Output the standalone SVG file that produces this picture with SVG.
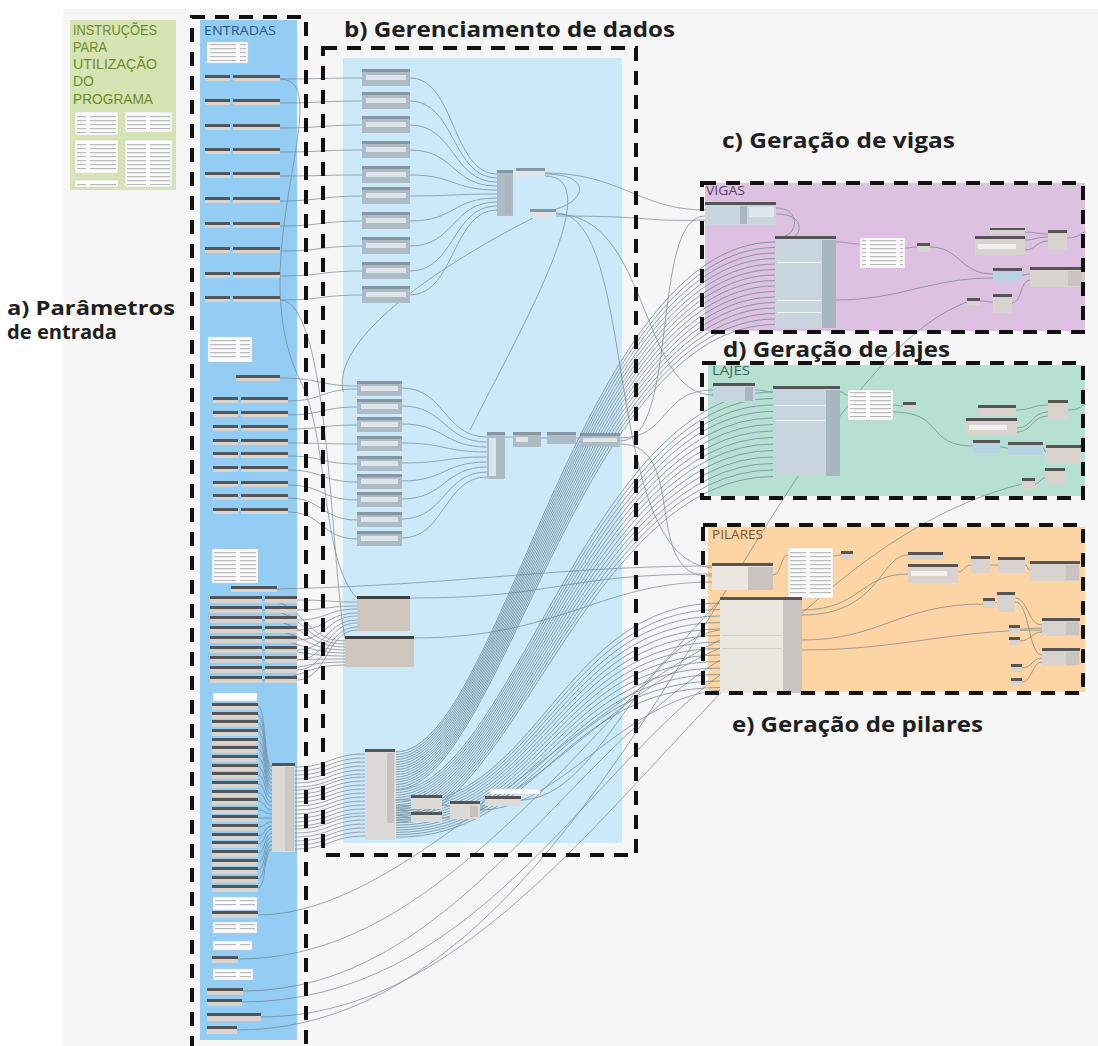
<svg xmlns="http://www.w3.org/2000/svg" width="1098" height="1046" viewBox="0 0 1098 1046">
<style>
.lbl{font-family:"Open Sans","Liberation Sans",sans-serif;font-weight:700;fill:#1e1e1e;font-size:21px}
.lbs{font-size:19px}
.gt{font-family:"Open Sans","Liberation Sans",sans-serif;font-size:12px}
.it{font-family:"Liberation Sans",Arial,sans-serif;font-size:14px;fill:#6f8a2a}
.dash{fill:none;stroke:#111;stroke-width:4;stroke-dasharray:14 10}
.w{fill:none;stroke:#73838e;stroke-width:0.8;opacity:0.85}
.f{fill:none;stroke:#688392;stroke-width:0.9;opacity:0.8}
.h{fill:#555}
.b{fill:#d8d3ce}
.cbh{fill:#8797a1}
.cbb{fill:#adbbc4}
.cbi{fill:#dde5ea}
.nt{fill:#fbfbfb;stroke:#d0d0d0;stroke-width:0.5}
.nb{fill:#c8d5de}
.pc{fill:#a8b6bf}
.pb{fill:#ebe6e0}
.pp{fill:#c9c4bf}
.tan{fill:#cfc6bd}
</style>
<defs>
<pattern id="tx" width="30" height="4" patternUnits="userSpaceOnUse"><rect width="26" height="1.2" fill="#b9b9b9"/></pattern>
<g id="pA"><rect width="25" height="3" class="h"/><rect y="3" width="25" height="3" class="b"/><rect x="28" width="47" height="3" class="h"/><rect x="28" y="3" width="47" height="3" class="b"/></g>
<g id="pC"><rect width="52" height="3" class="h"/><rect y="3" width="52" height="4" class="b"/><rect x="55" width="32" height="3" class="h"/><rect x="55" y="3" width="32" height="4" class="b"/></g>
<g id="li"><rect width="46" height="3" class="h"/><rect y="3" width="46" height="4" class="b"/></g>
<g id="cb"><rect width="48" height="3" class="cbh"/><rect y="3" width="48" height="14" class="cbb"/><rect x="4" y="6" width="40" height="5" class="cbi"/></g>
<g id="cb2"><rect width="45" height="3" class="cbh"/><rect y="3" width="45" height="12" class="cbb"/><rect x="4" y="5" width="37" height="5" class="cbi"/></g>
</defs>

<rect width="1098" height="1046" fill="#ffffff"/>
<rect x="63" y="9" width="1035" height="1037" fill="#f6f6f6"/>

<g id="instrucoes">
<rect x="70" y="20" width="106" height="170" fill="#d6e4b4"/>
<text class="it" x="73" y="35" textLength="84" lengthAdjust="spacingAndGlyphs">INSTRUÇÕES</text>
<text class="it" x="73" y="52" textLength="34" lengthAdjust="spacingAndGlyphs">PARA</text>
<text class="it" x="73" y="69" textLength="84" lengthAdjust="spacingAndGlyphs">UTILIZAÇÃO</text>
<text class="it" x="73" y="86" textLength="21" lengthAdjust="spacingAndGlyphs">DO</text>
<text class="it" x="73" y="104" textLength="80" lengthAdjust="spacingAndGlyphs">PROGRAMA</text>
<rect x="75" y="112" width="43" height="23" class="nt"/><rect x="77" y="114" width="39" height="19" fill="url(#tx)"/>
<rect x="125" y="112" width="47" height="20" class="nt"/><rect x="127" y="114" width="43" height="16" fill="url(#tx)"/>
<rect x="75" y="140" width="43" height="33" class="nt"/><rect x="77" y="142" width="39" height="29" fill="url(#tx)"/>
<rect x="125" y="140" width="47" height="47" class="nt"/><rect x="127" y="142" width="43" height="43" fill="url(#tx)"/>
<rect x="75" y="180" width="43" height="7" class="nt"/><rect x="77" y="182" width="39" height="4" fill="url(#tx)"/>
</g>

<g id="entradas-panel">
<rect x="200" y="20" width="97" height="1020" fill="#93cdf3"/>
<text x="204" y="35" class="gt" style="font-size:13px" fill="#27577d" textLength="72" lengthAdjust="spacingAndGlyphs">ENTRADAS</text>
</g>
<rect id="gerenciamento-panel" x="343" y="58" width="279" height="785" fill="#cce9fa"/>
<g id="vigas-panel"><rect x="705" y="183" width="380" height="148" fill="#dcc1e1"/>
<text x="706" y="195" class="gt" fill="#5c3d66" textLength="39" lengthAdjust="spacingAndGlyphs">VIGAS</text></g>
<g id="lajes-panel"><rect x="708" y="365" width="377" height="131" fill="#b6e1d2"/>
<text x="712" y="375" class="gt" fill="#3a6a5a" textLength="38" lengthAdjust="spacingAndGlyphs">LAJES</text></g>
<g id="pilares-panel"><rect x="708" y="527" width="377" height="165" fill="#fdd4a4"/>
<text x="712" y="539" class="gt" fill="#7a5530" textLength="51" lengthAdjust="spacingAndGlyphs">PILARES</text></g>

<g id="connectors">
<g class="w">
<path d="M280,79 C320,79 322,78 362,78"/><path d="M280,103 C320,103 322,101 362,101"/><path d="M280,128 C320,128 322,125 362,125"/><path d="M280,152 C320,152 322,150 362,150"/><path d="M280,176 C320,176 322,175 362,175"/><path d="M280,201 C320,201 322,196 362,196"/><path d="M280,226 C320,226 322,221 362,221"/><path d="M280,251 C320,251 322,246 362,246"/><path d="M280,276 C320,276 322,271 362,271"/><path d="M280,300 C320,300 322,295 362,295"/>
<path d="M410,78 C455,78 452,174 497,174"/><path d="M410,101 C455,101 452,178 497,178"/><path d="M410,125 C455,125 452,182 497,182"/><path d="M410,150 C455,150 452,186 497,186"/><path d="M410,175 C455,175 452,190 497,190"/><path d="M410,196 C455,196 452,194 497,194"/><path d="M410,221 C455,221 452,198 497,198"/><path d="M410,246 C455,246 452,202 497,202"/><path d="M410,271 C455,271 452,206 497,206"/><path d="M410,295 C455,295 452,210 497,210"/>
<path d="M288,401 C322,401 322,389 357,389"/><path d="M288,415 C322,415 322,407 357,407"/><path d="M288,429 C322,429 322,425 357,425"/><path d="M288,443 C322,443 322,444 357,444"/><path d="M288,456 C322,456 322,464 357,464"/><path d="M288,470 C322,470 322,482 357,482"/><path d="M288,485 C322,485 322,500 357,500"/><path d="M288,498 C322,498 322,520 357,520"/><path d="M288,512 C322,512 322,539 357,539"/>
<path d="M402,388 C445,388 444,437 487,437"/><path d="M402,406 C445,406 444,442 487,442"/><path d="M402,424 C445,424 444,447 487,447"/><path d="M402,443 C445,443 444,452 487,452"/><path d="M402,463 C445,463 444,457 487,457"/><path d="M402,481 C445,481 444,462 487,462"/><path d="M402,499 C445,499 444,467 487,467"/><path d="M402,519 C445,519 444,472 487,472"/><path d="M402,538 C445,538 444,477 487,477"/>
<path d="M505,437 L513,437"/><path d="M541,438 L547,438"/><path d="M576,438 L580,438"/>
<path d="M297,600 C327,600 327,602 357,602"/><path d="M297,610 C327,610 327,606 357,606"/><path d="M297,620 C327,620 327,609 357,609"/><path d="M297,630 C327,630 327,613 357,613"/><path d="M297,640 C327,640 327,616 357,616"/><path d="M297,650 C327,650 327,620 357,620"/><path d="M297,660 C327,660 327,623 357,623"/><path d="M297,670 C327,670 327,627 357,627"/><path d="M297,680 C327,680 327,630 357,630"/>
<path d="M262,600 C305,600 303,641 345,641"/><path d="M262,610 C305,610 303,644 345,644"/><path d="M262,620 C305,620 303,647 345,647"/><path d="M262,630 C305,630 303,650 345,650"/><path d="M262,640 C305,640 303,653 345,653"/><path d="M262,650 C305,650 303,656 345,656"/><path d="M262,660 C305,660 303,659 345,659"/><path d="M262,670 C305,670 303,662 345,662"/><path d="M262,680 C305,680 303,665 345,665"/>
<path d="M545,173 C620,173 640,210 705,210"/>
<path d="M545,174 C600,174 585,212 530,213"/>
<path d="M556,213 C640,213 600,560 712,568"/>
<path d="M556,214 C650,214 640,395 713,395"/>
<path d="M556,216 C660,216 640,222 705,220"/>
<path d="M545,176 C610,176 520,330 470,430"/>
<path d="M533,218 C470,250 330,330 343,392"/>
<path d="M620,438 C670,438 660,390 713,390"/>
<path d="M620,441 C680,441 650,216 705,216"/>
<path d="M620,444 C690,444 640,580 712,576"/>
<path d="M277,589 C460,585 560,566 712,566"/>
<path d="M410,598 C560,598 560,574 712,574"/>
<path d="M414,638 C560,638 600,582 712,582"/>
<path d="M280,79 C340,79 240,260 300,380 C330,440 320,560 357,598"/>
<path d="M280,300 C330,300 330,560 345,638"/>
<path d="M280,378 C320,378 320,386 357,386"/>
<path d="M258,915 C400,915 560,720 720,640"/>
<path d="M238,959 C400,959 520,820 720,600"/>
<path d="M243,991 C450,991 560,760 720,660"/>
<path d="M241,1002 C470,1002 580,780 720,675"/>
<path d="M260,1017 C560,1017 720,560 1022,484"/>
<path d="M237,1030 C600,1030 760,380 967,302"/>
<path d="M520,800 C600,800 640,640 720,630"/>
<path d="M480,810 C560,810 620,700 720,690"/>
<path d="M442,818 C520,818 600,700 720,648"/>
<path d="M442,805 C446,805 446,806 450,806"/>
<path d="M395,800 L411,800"/>
<path d="M480,806 C483,806 482,800 485,800"/>
</g>
<g class="w">
<path d="M258,706 C266,706 264,767 272,767"/><path d="M258,715 C266,715 264,771 272,771"/><path d="M258,723 C266,723 264,775 272,775"/><path d="M258,732 C266,732 264,779 272,779"/><path d="M258,741 C266,741 264,783 272,783"/><path d="M258,749 C266,749 264,787 272,787"/><path d="M258,758 C266,758 264,790 272,790"/><path d="M258,767 C266,767 264,794 272,794"/><path d="M258,775 C266,775 264,798 272,798"/><path d="M258,784 C266,784 264,802 272,802"/><path d="M258,793 C266,793 264,806 272,806"/><path d="M258,801 C266,801 264,810 272,810"/><path d="M258,810 C266,810 264,814 272,814"/><path d="M258,818 C266,818 264,818 272,818"/><path d="M258,827 C266,827 264,822 272,822"/><path d="M258,836 C266,836 264,826 272,826"/><path d="M258,844 C266,844 264,829 272,829"/><path d="M258,853 C266,853 264,833 272,833"/><path d="M258,862 C266,862 264,837 272,837"/><path d="M258,870 C266,870 264,841 272,841"/><path d="M258,879 C266,879 264,845 272,845"/><path d="M258,888 C266,888 264,849 272,849"/>
<path d="M295,767 C330,767 330,754 365,754"/><path d="M295,771 C330,771 330,758 365,758"/><path d="M295,775 C330,775 330,762 365,762"/><path d="M295,779 C330,779 330,766 365,766"/><path d="M295,783 C330,783 330,770 365,770"/><path d="M295,787 C330,787 330,774 365,774"/><path d="M295,790 C330,790 330,777 365,777"/><path d="M295,794 C330,794 330,781 365,781"/><path d="M295,798 C330,798 330,785 365,785"/><path d="M295,802 C330,802 330,789 365,789"/><path d="M295,806 C330,806 330,793 365,793"/><path d="M295,810 C330,810 330,797 365,797"/><path d="M295,814 C330,814 330,801 365,801"/><path d="M295,818 C330,818 330,805 365,805"/><path d="M295,822 C330,822 330,809 365,809"/><path d="M295,826 C330,826 330,813 365,813"/><path d="M295,829 C330,829 330,816 365,816"/><path d="M295,833 C330,833 330,820 365,820"/><path d="M295,837 C330,837 330,824 365,824"/><path d="M295,841 C330,841 330,828 365,828"/><path d="M295,845 C330,845 330,832 365,832"/><path d="M295,849 C330,849 330,836 365,836"/>
</g>
<g class="f">
<path d="M396,752 C500,752 580,242 775,242"/><path d="M396,754.5 C500,754.5 580,247.5 775,247.5"/><path d="M396,757 C500,757 580,253 775,253"/><path d="M396,759.5 C500,759.5 580,258.5 775,258.5"/><path d="M396,762 C500,762 580,264 775,264"/><path d="M396,764.5 C500,764.5 580,269.5 775,269.5"/><path d="M396,767 C500,767 580,275 775,275"/><path d="M396,769.5 C500,769.5 580,280.5 775,280.5"/><path d="M396,772 C500,772 580,286 775,286"/><path d="M396,774.5 C500,774.5 580,291.5 775,291.5"/><path d="M396,777 C500,777 580,297 775,297"/><path d="M396,779.5 C500,779.5 580,302.5 775,302.5"/><path d="M396,782 C500,782 580,308 775,308"/><path d="M396,784.5 C500,784.5 580,313.5 775,313.5"/><path d="M396,787 C500,787 580,319 775,319"/><path d="M396,789.5 C500,789.5 580,324.5 775,324.5"/>
<path d="M396,790 C510,790 590,392 773,392"/><path d="M396,792.5 C510,792.5 590,398.5 773,398.5"/><path d="M396,795 C510,795 590,405 773,405"/><path d="M396,797.5 C510,797.5 590,411.5 773,411.5"/><path d="M396,800 C510,800 590,418 773,418"/><path d="M396,802.5 C510,802.5 590,424.5 773,424.5"/><path d="M396,805 C510,805 590,431 773,431"/><path d="M396,807.5 C510,807.5 590,437.5 773,437.5"/><path d="M396,810 C510,810 590,444 773,444"/><path d="M396,812.5 C510,812.5 590,450.5 773,450.5"/><path d="M396,815 C510,815 590,457 773,457"/><path d="M396,817.5 C510,817.5 590,463.5 773,463.5"/><path d="M396,820 C510,820 590,470 773,470"/><path d="M396,822.5 C510,822.5 590,476.5 773,476.5"/>
<path d="M396,806 C540,806 560,603 720,603"/><path d="M396,808.4 C540,808.4 560,609.5 720,609.5"/><path d="M396,810.8 C540,810.8 560,616 720,616"/><path d="M396,813.2 C540,813.2 560,622.5 720,622.5"/><path d="M396,815.6 C540,815.6 560,629 720,629"/><path d="M396,818 C540,818 560,635.5 720,635.5"/><path d="M396,820.4 C540,820.4 560,642 720,642"/><path d="M396,822.8 C540,822.8 560,648.5 720,648.5"/><path d="M396,825.2 C540,825.2 560,655 720,655"/><path d="M396,827.6 C540,827.6 560,661.5 720,661.5"/><path d="M396,830 C540,830 560,668 720,668"/><path d="M396,832.4 C540,832.4 560,674.5 720,674.5"/><path d="M396,834.8 C540,834.8 560,681 720,681"/><path d="M396,837.2 C540,837.2 560,687.5 720,687.5"/>
</g>
<g class="w">
<path d="M776,208 C800,208 798,232 785,236"/><path d="M776,214 C806,214 800,234 795,236"/>
<path d="M836,242 C850,242 848,244 860,244"/><path d="M905,248 C910,248 912,247 917,247"/>
<path d="M930,247 C960,247 960,274 993,274"/><path d="M836,300 C900,300 930,278 993,278"/>
<path d="M1025,232 C1036,232 1036,234 1048,234"/><path d="M1025,240 C1036,240 1036,237 1048,237"/><path d="M1025,250 C1036,250 1036,241 1048,241"/>
<path d="M1022,275 C1026,275 1026,274 1030,274"/><path d="M980,301 C986,301 988,302 993,302"/>
<path d="M1012,303 C1022,303 1020,280 1030,280"/><path d="M1067,238 C1080,238 1080,232 1086,232"/>
<path d="M755,390 C765,390 765,392 773,392"/><path d="M840,392 C845,392 843,395 848,395"/>
<path d="M893,405 C898,405 898,406 903,406"/><path d="M893,412 C945,412 925,446 973,446"/>
<path d="M1000,447 C1004,447 1004,448 1008,448"/><path d="M1043,448 C1045,448 1044,452 1046,452"/>
<path d="M1016,410 C1032,410 1032,405 1048,405"/><path d="M1017,428 C1032,428 1032,412 1048,412"/><path d="M1017,432 C1032,432 1032,416 1048,416"/>
<path d="M1035,484 C1040,484 1040,478 1045,478"/><path d="M1068,410 C1080,410 1080,406 1086,404"/>
<path d="M773,575 C782,575 780,555 788,555"/><path d="M833,556 C837,556 837,555 841,555"/>
<path d="M802,610 C860,610 860,574 908,574"/><path d="M802,615 C880,615 880,555 908,555"/>
<path d="M802,640 C880,640 900,604 983,604"/><path d="M802,650 C900,650 950,630 1042,630"/>
<path d="M958,572 C964,572 964,565 971,565"/><path d="M990,565 C994,565 994,565 998,565"/><path d="M1025,565 C1028,565 1027,570 1030,570"/>
<path d="M995,603 C996,603 996,602 997,602"/>
<path d="M1015,598 C1028,598 1028,625 1042,625"/><path d="M1015,602 C1030,602 1028,655 1042,655"/>
<path d="M1020,629 C1030,629 1032,628 1042,628"/><path d="M1020,641 C1030,641 1032,632 1042,632"/>
<path d="M1022,668 C1032,668 1032,658 1042,658"/><path d="M1022,682 C1032,682 1032,662 1042,662"/>
</g>
</g>

<g id="entradas-nodes">
<rect x="207" y="42" width="41" height="21" class="nt"/><rect x="209" y="44" width="37" height="17" fill="url(#tx)"/>
<use href="#pA" x="205" y="75"/><use href="#pA" x="205" y="99"/><use href="#pA" x="205" y="124"/><use href="#pA" x="205" y="148"/><use href="#pA" x="205" y="172"/><use href="#pA" x="205" y="197"/><use href="#pA" x="205" y="222"/><use href="#pA" x="205" y="247"/><use href="#pA" x="205" y="272"/><use href="#pA" x="205" y="296"/>
<rect x="208" y="337" width="44" height="25" class="nt"/><rect x="210" y="339" width="40" height="21" fill="url(#tx)"/>
<rect x="236" y="375" width="44" height="3" class="h"/><rect x="236" y="378" width="44" height="3" class="b"/>
<use href="#pA" x="213" y="397"/><use href="#pA" x="213" y="411"/><use href="#pA" x="213" y="425"/><use href="#pA" x="213" y="439"/><use href="#pA" x="213" y="452"/><use href="#pA" x="213" y="466"/><use href="#pA" x="213" y="481"/><use href="#pA" x="213" y="494"/><use href="#pA" x="213" y="508"/>
<rect x="212" y="549" width="46" height="34" class="nt"/><rect x="214" y="551" width="42" height="30" fill="url(#tx)"/>
<rect x="231" y="586" width="46" height="3" class="h"/><rect x="231" y="589" width="46" height="3" class="b"/>
<use href="#pC" x="210" y="596"/><use href="#pC" x="210" y="606"/><use href="#pC" x="210" y="616"/><use href="#pC" x="210" y="626"/><use href="#pC" x="210" y="636"/><use href="#pC" x="210" y="646"/><use href="#pC" x="210" y="656"/><use href="#pC" x="210" y="666"/><use href="#pC" x="210" y="676"/>
<rect x="213" y="693" width="44" height="8" class="nt"/>
<use href="#li" x="212" y="703"/><use href="#li" x="212" y="712"/><use href="#li" x="212" y="720"/><use href="#li" x="212" y="729"/><use href="#li" x="212" y="738"/><use href="#li" x="212" y="746"/><use href="#li" x="212" y="755"/><use href="#li" x="212" y="764"/><use href="#li" x="212" y="772"/><use href="#li" x="212" y="781"/><use href="#li" x="212" y="790"/><use href="#li" x="212" y="798"/><use href="#li" x="212" y="807"/><use href="#li" x="212" y="815"/><use href="#li" x="212" y="824"/><use href="#li" x="212" y="833"/><use href="#li" x="212" y="841"/><use href="#li" x="212" y="850"/><use href="#li" x="212" y="859"/><use href="#li" x="212" y="867"/><use href="#li" x="212" y="876"/><use href="#li" x="212" y="885"/>
<rect x="213" y="897" width="44" height="13" class="nt"/><rect x="215" y="899" width="40" height="9" fill="url(#tx)"/>
<use href="#li" x="212" y="911"/>
<rect x="213" y="922" width="44" height="11" class="nt"/><rect x="215" y="924" width="40" height="7" fill="url(#tx)"/>
<rect x="213" y="941" width="39" height="9" class="nt"/><rect x="215" y="943" width="35" height="5" fill="url(#tx)"/>
<rect x="212" y="956" width="26" height="3" class="h"/><rect x="212" y="959" width="26" height="4" class="b"/>
<rect x="213" y="969" width="40" height="11" class="nt"/><rect x="215" y="971" width="36" height="7" fill="url(#tx)"/>
<rect x="207" y="988" width="36" height="3" class="h"/><rect x="207" y="991" width="36" height="4" class="b"/>
<rect x="207" y="999" width="35" height="3" class="h"/><rect x="207" y="1002" width="35" height="4" class="b"/>
<rect x="207" y="1013" width="54" height="3" class="h"/><rect x="207" y="1016" width="54" height="5" class="b"/>
<rect x="207" y="1026" width="30" height="3" class="h"/><rect x="207" y="1029" width="30" height="5" class="b"/>
</g>

<g id="gerenciamento-nodes">
<use href="#cb" x="362" y="69"/><use href="#cb" x="362" y="92"/><use href="#cb" x="362" y="116"/><use href="#cb" x="362" y="141"/><use href="#cb" x="362" y="166"/><use href="#cb" x="362" y="187"/><use href="#cb" x="362" y="212"/><use href="#cb" x="362" y="237"/><use href="#cb" x="362" y="262"/><use href="#cb" x="362" y="286"/>
<g id="merge-top"><rect x="497" y="170" width="16" height="3" class="cbh"/><rect x="497" y="173" width="16" height="43" class="cbb"/><rect x="505" y="176" width="6" height="38" class="pc"/></g>
<rect x="516" y="168" width="29" height="3" class="cbh"/><rect x="516" y="171" width="29" height="7" class="cbi"/>
<rect x="530" y="209" width="26" height="3" class="cbh"/><rect x="530" y="212" width="26" height="6" class="cbi"/>
<use href="#cb2" x="357" y="381"/><use href="#cb2" x="357" y="399"/><use href="#cb2" x="357" y="417"/><use href="#cb2" x="357" y="436"/><use href="#cb2" x="357" y="456"/><use href="#cb2" x="357" y="474"/><use href="#cb2" x="357" y="492"/><use href="#cb2" x="357" y="512"/><use href="#cb2" x="357" y="531"/>
<g id="merge-mid"><rect x="487" y="432" width="18" height="3" class="cbh"/><rect x="487" y="435" width="18" height="44" class="cbb"/><rect x="489" y="438" width="7" height="38" class="cbi"/></g>
<rect x="513" y="432" width="28" height="3" class="cbh"/><rect x="513" y="435" width="28" height="12" class="cbb"/><rect x="516" y="437" width="12" height="5" class="cbi"/>
<rect x="547" y="432" width="29" height="3" class="cbh"/><rect x="547" y="435" width="29" height="9" class="cbb"/>
<rect x="580" y="433" width="40" height="3" class="cbh"/><rect x="580" y="436" width="40" height="11" class="cbb"/><rect x="583" y="438" width="34" height="4" class="cbi"/>
<rect x="357" y="596" width="53" height="3" fill="#3f3f3f"/><rect x="357" y="599" width="53" height="32" class="tan"/>
<rect x="345" y="636" width="69" height="3" fill="#3f3f3f"/><rect x="345" y="639" width="69" height="28" class="tan"/>
<rect x="272" y="763" width="23" height="3" class="h"/><rect x="272" y="766" width="23" height="86" fill="#dcdad7"/><rect x="285" y="767" width="9" height="84" fill="#cbc8c4"/>
<rect x="365" y="749" width="30" height="3" class="h"/><rect x="365" y="752" width="30" height="88" fill="#dcdad7"/><rect x="387" y="753" width="7" height="70" fill="#c6c3bf"/>
<rect x="411" y="795" width="31" height="3" class="h"/><rect x="411" y="798" width="31" height="11" fill="#dcdad7"/>
<rect x="411" y="812" width="31" height="3" class="h"/><rect x="411" y="815" width="31" height="7" fill="#dcdad7"/>
<rect x="450" y="801" width="30" height="3" class="h"/><rect x="450" y="804" width="30" height="15" fill="#dcdad7"/><rect x="470" y="806" width="8" height="11" fill="#c6c3bf"/>
<rect x="490" y="789" width="50" height="5" class="nt"/>
<rect x="485" y="796" width="36" height="3" class="h"/><rect x="485" y="799" width="36" height="7" fill="#dcdad7"/>
</g>

<g id="vigas-nodes">
<rect x="705" y="202" width="71" height="3" class="h"/><rect x="705" y="205" width="71" height="20" class="nb"/><rect x="740" y="206" width="7" height="18" class="pc"/><rect x="749" y="207" width="25" height="10" fill="#dfe7ec"/>
<rect x="775" y="236" width="61" height="3" class="h"/><rect x="775" y="239" width="61" height="89" class="nb"/><rect x="822" y="240" width="14" height="88" class="pc"/><rect x="777" y="262" width="44" height="1" fill="#eef3f6"/><rect x="777" y="300" width="44" height="1" fill="#eef3f6"/><rect x="777" y="312" width="44" height="1" fill="#eef3f6"/>
<rect x="860" y="238" width="45" height="30" class="nt"/><rect x="862" y="240" width="41" height="26" fill="url(#tx)"/>
<rect x="917" y="243" width="13" height="3" class="h"/><rect x="917" y="246" width="13" height="6" class="b"/>
<rect x="990" y="228" width="35" height="2" class="h"/><rect x="990" y="230" width="35" height="4" class="b"/>
<rect x="975" y="236" width="50" height="3" class="h"/><rect x="975" y="239" width="50" height="16" class="b"/><rect x="978" y="244" width="38" height="5" fill="#f2f0ee"/>
<rect x="1048" y="230" width="19" height="3" class="h"/><rect x="1048" y="233" width="19" height="17" class="b"/>
<rect x="993" y="268" width="29" height="3" class="h"/><rect x="993" y="271" width="29" height="11" fill="#b9d3e2"/>
<rect x="1030" y="267" width="53" height="3" class="h"/><rect x="1030" y="270" width="53" height="17" class="b"/><rect x="1068" y="271" width="14" height="15" class="pp"/>
<rect x="967" y="298" width="13" height="3" class="h"/><rect x="967" y="301" width="13" height="4" class="b"/>
<rect x="993" y="294" width="19" height="3" class="h"/><rect x="993" y="297" width="19" height="16" class="b"/>
</g>

<g id="lajes-nodes">
<rect x="713" y="383" width="42" height="3" class="h"/><rect x="713" y="386" width="42" height="16" class="nb"/><rect x="745" y="387" width="8" height="14" class="pc"/>
<rect x="773" y="386" width="67" height="3" class="h"/><rect x="773" y="389" width="67" height="87" class="nb"/><rect x="826" y="390" width="14" height="86" class="pc"/><rect x="775" y="405" width="50" height="1" fill="#eef3f6"/><rect x="775" y="420" width="50" height="1" fill="#eef3f6"/>
<rect x="848" y="390" width="45" height="30" class="nt"/><rect x="850" y="392" width="41" height="26" fill="url(#tx)"/>
<rect x="903" y="402" width="13" height="3" class="h"/><rect x="903" y="405" width="13" height="5" class="b"/>
<rect x="978" y="405" width="38" height="3" class="h"/><rect x="978" y="408" width="38" height="7" class="b"/>
<rect x="966" y="418" width="51" height="3" class="h"/><rect x="966" y="421" width="51" height="14" class="b"/><rect x="969" y="425" width="38" height="5" fill="#f2f0ee"/>
<rect x="1048" y="400" width="20" height="3" class="h"/><rect x="1048" y="403" width="20" height="17" class="b"/>
<rect x="973" y="440" width="27" height="3" class="h"/><rect x="973" y="443" width="27" height="10" fill="#b9d3e2"/>
<rect x="1008" y="442" width="35" height="3" class="h"/><rect x="1008" y="445" width="35" height="10" fill="#b9d3e2"/>
<rect x="1046" y="445" width="35" height="3" class="h"/><rect x="1046" y="448" width="35" height="15" class="b"/>
<rect x="1045" y="468" width="20" height="3" class="h"/><rect x="1045" y="471" width="20" height="14" class="b"/>
<rect x="1022" y="478" width="13" height="3" class="h"/><rect x="1022" y="481" width="13" height="9" class="b"/>
</g>

<g id="pilares-nodes">
<rect x="712" y="563" width="61" height="3" class="h"/><rect x="712" y="566" width="61" height="24" class="pb"/><rect x="748" y="567" width="25" height="23" class="pp"/>
<rect x="788" y="548" width="45" height="50" class="nt"/><rect x="790" y="550" width="41" height="46" fill="url(#tx)"/>
<rect x="841" y="551" width="12" height="3" class="h"/><rect x="841" y="554" width="12" height="6" class="b"/>
<rect x="720" y="597" width="82" height="3" class="h"/><rect x="720" y="600" width="82" height="93" class="pb"/><rect x="783" y="600" width="19" height="93" class="pp"/><rect x="722" y="635" width="60" height="1" fill="#d5d0ca"/><rect x="722" y="648" width="60" height="1" fill="#d5d0ca"/>
<rect x="908" y="552" width="35" height="3" class="h"/><rect x="908" y="555" width="35" height="5" class="b"/>
<rect x="908" y="564" width="50" height="3" class="h"/><rect x="908" y="567" width="50" height="16" class="b"/><rect x="911" y="571" width="36" height="5" fill="#f2f0ee"/>
<rect x="971" y="556" width="19" height="3" class="h"/><rect x="971" y="559" width="19" height="14" class="b"/>
<rect x="998" y="557" width="27" height="3" class="h"/><rect x="998" y="560" width="27" height="13" class="b"/>
<rect x="1030" y="561" width="50" height="3" class="h"/><rect x="1030" y="564" width="50" height="17" class="b"/><rect x="1066" y="565" width="13" height="15" class="pp"/>
<rect x="983" y="598" width="12" height="3" class="h"/><rect x="983" y="601" width="12" height="7" class="b"/>
<rect x="997" y="592" width="18" height="3" class="h"/><rect x="997" y="595" width="18" height="17" class="b"/>
<rect x="1042" y="618" width="38" height="3" class="h"/><rect x="1042" y="621" width="38" height="15" class="b"/><rect x="1066" y="622" width="13" height="13" class="pp"/>
<rect x="1042" y="648" width="38" height="3" class="h"/><rect x="1042" y="651" width="38" height="15" class="b"/><rect x="1066" y="652" width="13" height="13" class="pp"/>
<rect x="1009" y="625" width="11" height="3" class="h"/><rect x="1009" y="628" width="11" height="5" class="b"/>
<rect x="1009" y="637" width="11" height="3" class="h"/><rect x="1009" y="640" width="11" height="5" class="b"/>
<rect x="1011" y="664" width="11" height="3" class="h"/><rect x="1011" y="667" width="11" height="5" class="b"/>
<rect x="1011" y="678" width="11" height="3" class="h"/><rect x="1011" y="681" width="11" height="5" class="b"/>
</g>

<g id="group-frames">
<path class="dash" d="M192,1050 V17 H306 V1050"/>
<rect class="dash" x="323" y="48" width="313" height="807"/>
<rect class="dash" x="702" y="183" width="381" height="149"/>
<rect class="dash" x="702" y="363" width="381" height="135"/>
<rect class="dash" x="703" y="525" width="380" height="168"/>
</g>

<g id="labels">
<text class="lbl lbs" x="7" y="315" textLength="168" lengthAdjust="spacingAndGlyphs">a) Parâmetros</text>
<text class="lbl lbs" x="7" y="339" textLength="110" lengthAdjust="spacingAndGlyphs">de entrada</text>
<text class="lbl" x="344" y="37" textLength="331" lengthAdjust="spacingAndGlyphs">b) Gerenciamento de dados</text>
<text class="lbl" x="722" y="148" textLength="233" lengthAdjust="spacingAndGlyphs">c) Geração de vigas</text>
<text class="lbl" x="723" y="357" textLength="227" lengthAdjust="spacingAndGlyphs">d) Geração de lajes</text>
<text class="lbl" x="732" y="732" textLength="251" lengthAdjust="spacingAndGlyphs">e) Geração de pilares</text>
</g>
</svg>
